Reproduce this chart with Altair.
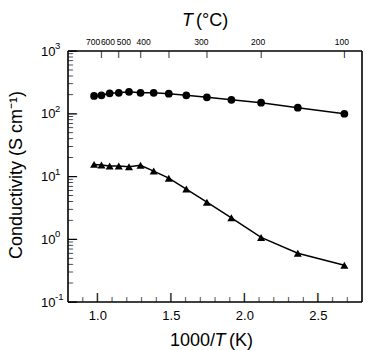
import altair as alt
import pandas as pd

# Measurement temperatures (deg C) and conductivities (S/cm) for the two samples
temps_c = [750, 700, 650, 600, 550, 500, 450, 400, 350, 300, 250, 200, 150, 100]
sigma_circle = [192, 197, 212, 216, 224, 216, 216, 209, 197, 183, 167, 150, 125, 100]
sigma_triangle = [15.6, 15.2, 14.7, 14.7, 14.3, 15.1, 12.2, 9.4, 6.3, 3.9, 2.2, 1.07, 0.60, 0.385]

# Axis decorations
x_major = [1.0, 1.5, 2.0, 2.5]
x_minor = [0.9, 1.1, 1.2, 1.3, 1.4, 1.6, 1.7, 1.8, 1.9, 2.1, 2.2, 2.3, 2.4, 2.6, 2.7]
y_major = [0.1, 1, 10, 100, 1000]
y_exponents = ["-1", "0", "1", "2", "3"]
y_minor = [m * d for d in (0.1, 1, 10, 100) for m in range(2, 10)]
top_temps_c = [700, 600, 500, 400, 300, 200, 100]
# label anchors on the 1000/T scale (crowded labels are nudged left of their ticks)
top_label_x = [0.971, 1.072, 1.180, 1.315, 1.707, 2.093, 2.663]

W, H = 294, 251


def inv_t(t_c):
    return 1000.0 / (t_c + 273.15)


circ = pd.DataFrame({"x": [inv_t(t) for t in temps_c], "y": sigma_circle})
tri = pd.DataFrame({"x": [inv_t(t) for t in temps_c], "y": sigma_triangle})

xscale = alt.Scale(domain=[0.8, 2.8], nice=False, zero=False)
yscale = alt.Scale(type="log", domain=[0.1, 1000], nice=False)

label_axis = dict(title=None, grid=False, ticks=False, tickSize=0, domain=False,
                  labelFontSize=13, labelFont="Liberation Sans", labelColor="black")
xaxis = alt.Axis(orient="bottom", values=x_major, format=".1f", labelPadding=7, **label_axis)
yaxis = alt.Axis(orient="left", values=y_major, labelExpr="'10'", labelPadding=13, **label_axis)

X = alt.X("x:Q", scale=xscale, axis=xaxis)
Y = alt.Y("y:Q", scale=yscale, axis=yaxis)


def series(df, shape, size):
    line = alt.Chart(df).mark_line(color="black", strokeWidth=1.5).encode(x=X, y=Y)
    pts = alt.Chart(df).mark_point(shape=shape, size=size, filled=True, color="black",
                                   opacity=1).encode(x=X, y=Y)
    return [line, pts]


def x_table(vals):
    return pd.DataFrame({"x": vals, "g": ["|"] * len(vals)})


def y_table(vals):
    return pd.DataFrame({"y": vals, "g": ["|"] * len(vals)})


xmaj_df = x_table(x_major)
xmin_df = x_table(x_minor)
ymaj_df = y_table(y_major)
ymaj_df["e"] = y_exponents
ymin_df = y_table(y_minor)
top_df = x_table([inv_t(t) for t in top_temps_c])
top_lab_df = pd.DataFrame({"x": top_label_x, "lab": [str(t) for t in top_temps_c]})

# Inward ticks are drawn as bar glyphs; the bar spans about 0.94 em
# (0.21 em below the baseline, 0.73 em above it).
BAR_EM, BAR_DESC, BAR_ASC = 0.938, 0.21, 0.728
glyph = dict(font="Liberation Sans", fontWeight="bold", color="black",
             align="center", baseline="alphabetic")


def bottom_ticks(df, length):
    f = length / BAR_EM
    return alt.Chart(df).mark_text(fontSize=f, **glyph).encode(
        x=X, y=alt.value(H - BAR_DESC * f), text="g:N")


def top_ticks(df, length):
    f = length / BAR_EM
    return alt.Chart(df).mark_text(fontSize=f, **glyph).encode(
        x=X, y=alt.value(BAR_ASC * f), text="g:N")


def left_ticks(df, length):
    f = length / BAR_EM
    return alt.Chart(df).mark_text(fontSize=f, angle=90, **glyph).encode(
        y=Y, x=alt.value(BAR_DESC * f), text="g:N")


tick_layers = [
    bottom_ticks(xmaj_df, 9), bottom_ticks(xmin_df, 5),
    left_ticks(ymaj_df, 9), left_ticks(ymin_df, 5),
    top_ticks(top_df, 6),
]

# plot frame
frame_style = dict(color="black", strokeWidth=1.6)
one = pd.DataFrame({"k": [0]})
frame = [
    alt.Chart(one).mark_rule(**frame_style).encode(x=alt.value(0), x2=alt.value(W), y=alt.value(0)),
    alt.Chart(one).mark_rule(**frame_style).encode(x=alt.value(0), x2=alt.value(W), y=alt.value(H)),
    alt.Chart(one).mark_rule(**frame_style).encode(y=alt.value(0), y2=alt.value(H), x=alt.value(0)),
    alt.Chart(one).mark_rule(**frame_style).encode(y=alt.value(0), y2=alt.value(H), x=alt.value(W)),
]

exps = alt.Chart(ymaj_df).mark_text(
    align="left", baseline="middle", dy=-5, fontSize=9.5, font="Liberation Sans",
    color="black").encode(y=Y, x=alt.value(-13), text="e:N")

top_labels = alt.Chart(top_lab_df).mark_text(
    baseline="alphabetic", align="center", fontSize=8.5, font="Liberation Sans",
    color="black").encode(x=X, y=alt.value(-6), text="lab:N")

title_font = dict(font="Liberation Sans", fontSize=18, color="black",
                  baseline="alphabetic")


def label(txt, x, y, align="left", italic=False, angle=None):
    kw = dict(title_font)
    if italic:
        kw["fontStyle"] = "italic"
    if angle is not None:
        kw["angle"] = angle
    return alt.Chart(pd.DataFrame({"t": [txt]})).mark_text(align=align, **kw).encode(
        x=alt.value(x), y=alt.value(y), text="t:N")


titles = [
    label("T", 114, -25.5, italic=True),
    label("(°C)", 128, -25.5),
    label("1000/", 102, 295),
    label("T", 146.5, 295, italic=True),
    label("(K)", 161, 295),
    label("Conductivity (S cm⁻¹)", -46.5, 124, align="center", angle=270),
]

chart = alt.layer(
    *series(circ, "circle", 60), *series(tri, "triangle-up", 65),
    *tick_layers, *frame, exps, top_labels, *titles
).properties(
    width=W, height=H,
    autosize=alt.AutoSizeParams(type="none"),
    padding={"left": 68, "top": 51, "right": 5, "bottom": 48},
    background="white",
).configure_view(stroke=None)

chart.save("out.html", embed_options={"renderer": "svg", "actions": False})
